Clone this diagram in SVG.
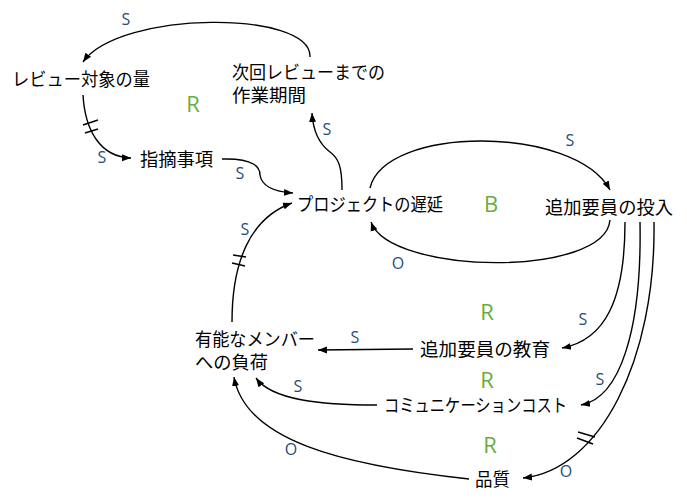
<svg xmlns="http://www.w3.org/2000/svg" width="687" height="500" viewBox="0 0 687 500">
<style>
.n{font-family:"Noto Sans CJK JP","Noto Sans",sans-serif;font-size:18px;fill:#000}
.l{font-family:"Open Sans","Liberation Sans",sans-serif;font-size:16px;fill:#1f4e79;text-anchor:middle}
.r{font-family:"Open Sans","Liberation Sans",sans-serif;font-size:22px;fill:#6aab3d;text-anchor:middle}
.c{fill:none;stroke:#000;stroke-width:1.4}
.h{stroke:#000;stroke-width:1.4}
</style>
<defs>
<marker id="a" markerUnits="userSpaceOnUse" markerWidth="10" markerHeight="10" viewBox="0 0 10 10" refX="9" refY="5" orient="auto">
<path d="M0,1.5 L9,5 L0,8.5 z" fill="#000"/>
</marker>
</defs>
<rect width="687" height="500" fill="#fff"/>
<g id="connectors">
<path class="c" marker-end="url(#a)" d="M310,57 C312,10 120,10 83,62"/>
<path class="c" marker-end="url(#a)" d="M83,95 C85,130 100,157 131,158"/>
<path class="c" marker-end="url(#a)" d="M222,159 C255,158 260,168 260,175 C262,188 278,192 293,193"/>
<path class="c" marker-end="url(#a)" d="M342,190 C342,165 338,158 330,152 C318,143 313,130 312,113"/>
<path class="c" marker-end="url(#a)" d="M232,322 C232,262 250,218 292,203"/>
<path class="c" marker-end="url(#a)" d="M370,188 C385,125 575,125 610,190"/>
<path class="c" marker-end="url(#a)" d="M610,220 C605,278 390,275 371,222"/>
<path class="c" marker-end="url(#a)" d="M625,222 C625,300 605,340 562,348"/>
<path class="c" marker-end="url(#a)" d="M640,222 C642,330 620,398 581,405"/>
<path class="c" marker-end="url(#a)" d="M654,222 C656,360 600,470 523,478"/>
<path class="c" marker-end="url(#a)" d="M413,349 L318,350"/>
<path class="c" marker-end="url(#a)" d="M377,405 C320,405 272,400 256,378"/>
<path class="c" marker-end="url(#a)" d="M469,479 C340,465 245,440 234,377"/>
<line class="h" x1="83" y1="125" x2="98" y2="120"/>
<line class="h" x1="85" y1="133" x2="98" y2="129"/>
<line class="h" x1="233" y1="255" x2="246" y2="257"/>
<line class="h" x1="232" y1="263" x2="245" y2="266"/>
<line class="h" x1="578" y1="432" x2="595" y2="437"/>
<line class="h" x1="577" y1="438" x2="593" y2="444"/>
<text class="l" x="126" y="25">S</text>
<text class="l" x="102" y="163">S</text>
<text class="l" x="327" y="135">S</text>
<text class="l" x="240" y="179">S</text>
<text class="l" x="570" y="146">S</text>
<text class="l" x="245" y="235">S</text>
<text class="l" x="398" y="269">O</text>
<text class="l" x="583" y="325">S</text>
<text class="l" x="355" y="343">S</text>
<text class="l" x="600" y="385">S</text>
<text class="l" x="298" y="392">S</text>
<text class="l" x="291" y="455">O</text>
<text class="l" x="566" y="477">O</text>
</g>
<g id="loops">
<text class="r" x="193" y="112">R</text>
<text class="r" x="491" y="212">B</text>
<text class="r" x="487" y="320">R</text>
<text class="r" x="487" y="388">R</text>
<text class="r" x="490" y="453">R</text>
</g>
<g id="review-amount"><text class="n" x="12" y="86" textLength="138" lengthAdjust="spacingAndGlyphs">レビュー対象の量</text></g>
<g id="period"><text class="n" x="232" y="79" textLength="153" lengthAdjust="spacingAndGlyphs">次回レビューまでの</text><text class="n" x="232" y="102" textLength="74" lengthAdjust="spacingAndGlyphs">作業期間</text></g>
<g id="findings"><text class="n" x="140" y="166" textLength="73" lengthAdjust="spacingAndGlyphs">指摘事項</text></g>
<g id="delay"><text class="n" x="297" y="211" textLength="146" lengthAdjust="spacingAndGlyphs">プロジェクトの遅延</text></g>
<g id="staffing"><text class="n" x="545" y="214" textLength="128" lengthAdjust="spacingAndGlyphs">追加要員の投入</text></g>
<g id="load"><text class="n" x="195" y="346" textLength="120" lengthAdjust="spacingAndGlyphs">有能なメンバー</text><text class="n" x="195" y="369" textLength="73" lengthAdjust="spacingAndGlyphs">への負荷</text></g>
<g id="training"><text class="n" x="420" y="356" textLength="130" lengthAdjust="spacingAndGlyphs">追加要員の教育</text></g>
<g id="comm"><text class="n" x="384" y="412" textLength="183" lengthAdjust="spacingAndGlyphs">コミュニケーションコスト</text></g>
<g id="quality"><text class="n" x="475" y="486" textLength="35" lengthAdjust="spacingAndGlyphs">品質</text></g>
</svg>
